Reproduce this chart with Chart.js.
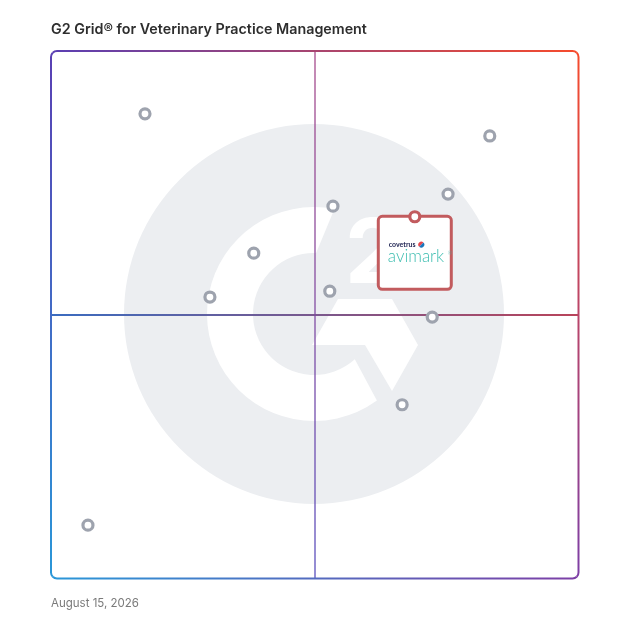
<!DOCTYPE html>
<html>
<head>
<meta charset="utf-8">
<script src="https://cdn.jsdelivr.net/npm/chart.js@4.4.1/dist/chart.umd.min.js"></script>
<style>
  html, body { margin: 0; padding: 0; background: #fff; }
  #wrap { width: 628px; height: 628px; position: relative; }
</style>
</head>
<body>
<div id="wrap"><canvas id="grid"></canvas></div>
<script>
const chartTitle = "G2 Grid® for Veterinary Practice Management";
const reportDate = "August 15, 2026";

// other products (x = satisfaction, y = market presence, 0-100)
const satisfaction = [17.8, 83.1, 75.2, 53.4, 38.4, 30.1, 52.8, 72.2, 66.5, 7.0];
const marketPresence = [88.1, 83.9, 72.9, 70.6, 61.7, 53.4, 54.5, 49.6, 33.0, 10.2];

// highlighted product
const featuredBrand = "covetrus";
const featuredName = "avimark";
const featuredSatisfaction = [68.9];
const featuredMarketPresence = [68.6];

const midValue = 50;

const corner = {
  tl: "#5a3fb3",
  tr: "#f64b2c",
  bl: "#2a97d8",
  br: "#7d3fa6",
};

function toPoints(xs, ys) {
  return xs.map((v, i) => ({ x: v, y: ys[i] }));
}

// big faint G2 mark behind the grid, quadrant lines and gradient frame
const gridBackground = {
  id: "gridBackground",
  beforeDatasetsDraw(chart) {
    const { ctx, chartArea: a, scales } = chart;
    const cx = scales.x.getPixelForValue(midValue) - 1;
    const cy = scales.y.getPixelForValue(midValue) - 1;
    const d = Math.PI / 180;
    ctx.save();

    ctx.fillStyle = "#eceef1";
    ctx.beginPath();
    ctx.arc(cx, cy, 190, 0, 2 * Math.PI);
    ctx.fill();

    ctx.fillStyle = "#ffffff";
    ctx.beginPath();
    ctx.arc(cx, cy, 107, -79 * d, 54 * d, true);
    ctx.arc(cx, cy, 61, 48 * d, -88 * d, false);
    ctx.closePath();
    ctx.fill();

    const chevron = [[-2, 31], [24, -15], [78, -15], [104, 31], [78, 77], [51, 31]];
    ctx.beginPath();
    chevron.forEach(([dx, dy], i) => {
      if (i === 0) ctx.moveTo(cx + dx, cy + dy);
      else ctx.lineTo(cx + dx, cy + dy);
    });
    ctx.closePath();
    ctx.fill();

    ctx.font = "700 90px Inter";
    ctx.textBaseline = "alphabetic";
    ctx.fillText("2", cx + 31, cy - 31);

    // quadrant lines
    const mx = scales.x.getPixelForValue(midValue);
    const my = scales.y.getPixelForValue(midValue);
    ctx.lineWidth = 2;
    let g = ctx.createLinearGradient(a.left, 0, a.right, 0);
    g.addColorStop(0, "#3a6cc0");
    g.addColorStop(1, "#b9445a");
    ctx.strokeStyle = g;
    ctx.beginPath();
    ctx.moveTo(a.left, my);
    ctx.lineTo(a.right, my);
    ctx.stroke();

    g = ctx.createLinearGradient(0, a.top, 0, a.bottom);
    g.addColorStop(0, "rgba(160,60,130,0.6)");
    g.addColorStop(1, "rgba(90,80,190,0.65)");
    ctx.strokeStyle = g;
    ctx.beginPath();
    ctx.moveTo(mx, a.top);
    ctx.lineTo(mx, a.bottom);
    ctx.stroke();

    // frame, each side with its own gradient between corner colours
    const l = a.left, t = a.top, r = a.right - 0.5, b = a.bottom - 0.5;
    const ox = (l + r) / 2, oy = (t + b) / 2, e = 6;
    const sides = [
      { tri: [[l - e, t - e], [r + e, t - e]], grad: [l, 0, r, 0], c: [corner.tl, corner.tr] },
      { tri: [[r + e, t - e], [r + e, b + e]], grad: [0, t, 0, b], c: [corner.tr, corner.br] },
      { tri: [[r + e, b + e], [l - e, b + e]], grad: [l, 0, r, 0], c: [corner.bl, corner.br] },
      { tri: [[l - e, b + e], [l - e, t - e]], grad: [0, t, 0, b], c: [corner.tl, corner.bl] },
    ];
    sides.forEach((s) => {
      ctx.save();
      ctx.beginPath();
      ctx.moveTo(ox, oy);
      ctx.lineTo(s.tri[0][0], s.tri[0][1]);
      ctx.lineTo(s.tri[1][0], s.tri[1][1]);
      ctx.closePath();
      ctx.clip();
      const sg = ctx.createLinearGradient(...s.grad);
      sg.addColorStop(0, s.c[0]);
      sg.addColorStop(1, s.c[1]);
      ctx.strokeStyle = sg;
      ctx.lineWidth = 2;
      ctx.beginPath();
      ctx.roundRect(l, t, r - l, b - t, 6);
      ctx.stroke();
      ctx.restore();
    });

    ctx.restore();
  },
  // card with the product logo, under the highlighted marker
  beforeDatasetDraw(chart, args) {
    if (args.index !== 0) return;
    const el = chart.getDatasetMeta(0).data[0];
    if (!el) return;
    const { ctx } = chart;
    const px = el.x, py = el.y;
    ctx.save();
    ctx.fillStyle = "#ffffff";
    ctx.strokeStyle = "#c25b5e";
    ctx.lineWidth = 3;
    ctx.beginPath();
    ctx.roundRect(px - 36.5, py - 0.5, 73, 73, 4);
    ctx.fill();
    ctx.stroke();

    ctx.textBaseline = "alphabetic";
    ctx.textAlign = "left";
    ctx.fillStyle = "#1c2150";
    ctx.font = "700 7px Lato";
    ctx.fillText(featuredBrand, px - 26, py + 30);

    ctx.fillStyle = "#e8474c";
    ctx.beginPath();
    ctx.arc(px + 6.5, py + 27.8, 3, Math.PI * 0.75, Math.PI * 1.75);
    ctx.fill();
    ctx.fillStyle = "#1b75bb";
    ctx.beginPath();
    ctx.arc(px + 6.5, py + 27.8, 3, Math.PI * 1.75, Math.PI * 0.75);
    ctx.fill();

    ctx.fillStyle = "#3dbdb0";
    ctx.font = "300 17px Lato";
    ctx.fillText(featuredName, px - 27, py + 45);
    ctx.font = "300 5px Lato";
    ctx.fillText("®", px + 33, py + 38);
    ctx.restore();
  },
};

new Chart(document.getElementById("grid"), {
  type: "scatter",
  data: {
    datasets: [
      {
        label: featuredName,
        data: toPoints(featuredSatisfaction, featuredMarketPresence),
        pointRadius: 5,
        pointBorderWidth: 3.2,
        pointBackgroundColor: "#ffffff",
        pointBorderColor: "#c25b5e",
      },
      {
        label: "Products",
        data: toPoints(satisfaction, marketPresence),
        pointRadius: 5,
        pointBorderWidth: 3.2,
        pointBackgroundColor: "#ffffff",
        pointBorderColor: "#9ea3ae",
      },
    ],
  },
  options: {
    responsive: true,
    maintainAspectRatio: false,
    animation: false,
    layout: { padding: { left: 51, right: 49, top: 10, bottom: 10 } },
    scales: {
      x: { type: "linear", min: 0, max: 100, display: false },
      y: { type: "linear", min: 0, max: 100, display: false },
    },
    plugins: {
      legend: { display: false },
      tooltip: { enabled: false },
      title: {
        display: true,
        text: chartTitle,
        align: "start",
        color: "#2e2e2e",
        font: { family: "Inter", size: 14.3, weight: "600" },
        padding: { top: 11.4, bottom: 12.4 },
      },
      subtitle: {
        display: true,
        position: "bottom",
        text: reportDate,
        align: "start",
        color: "#7a7a7a",
        font: { family: "Inter", size: 11.5, weight: "400" },
        padding: { top: 18.1, bottom: 7.1 },
      },
    },
  },
  plugins: [gridBackground],
});
</script>
</body>
</html>
